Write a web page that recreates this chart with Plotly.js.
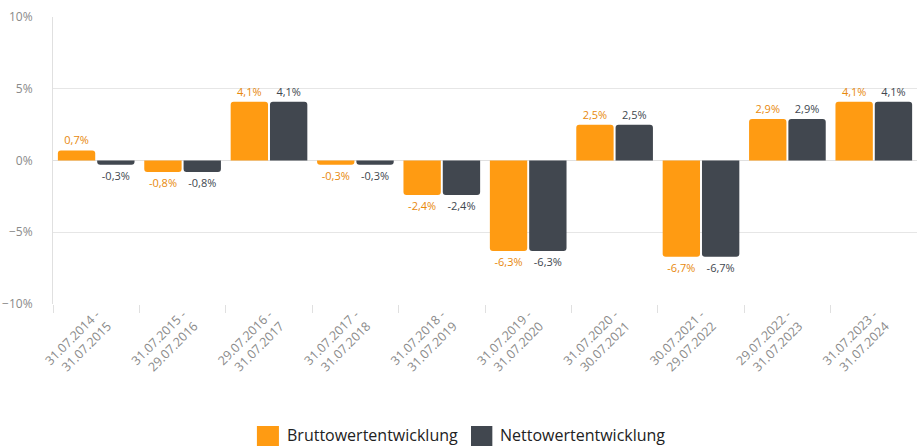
<!DOCTYPE html>
<html>
<head>
<meta charset="utf-8">
<script src="https://cdn.plot.ly/plotly-3.0.1.min.js"></script>
<style>html,body{margin:0;padding:0;background:#fff;overflow:hidden;}#chart{width:917px;height:446px;}</style>
</head>
<body>
<div id="chart"></div>
<script>
const categories = [
  "31.07.2014 -<br>31.07.2015",
  "31.07.2015 -<br>29.07.2016",
  "29.07.2016 -<br>31.07.2017",
  "31.07.2017 -<br>31.07.2018",
  "31.07.2018 -<br>31.07.2019",
  "31.07.2019 -<br>31.07.2020",
  "31.07.2020 -<br>30.07.2021",
  "30.07.2021 -<br>29.07.2022",
  "29.07.2022 -<br>31.07.2023",
  "31.07.2023 -<br>31.07.2024"
];
const brutto = [0.7, -0.8, 4.1, -0.3, -2.4, -6.3, 2.5, -6.7, 2.9, 4.1];
const netto = [-0.3, -0.8, 4.1, -0.3, -2.4, -6.3, 2.5, -6.7, 2.9, 4.1];
const seriesNames = ["Bruttowertentwicklung", "Nettowertentwicklung"];
const seriesColors = ['#FF9B12', '#41474F'];
const labelColors = ['#E8890C', '#41474F'];

const traces = [brutto, netto].map((vals, i) => ({
  type: 'bar', name: seriesNames[i], x: categories, y: vals,
  marker: {color: seriesColors[i]},
  texttemplate: '%{y:.1f}%', textposition: 'outside',
  textfont: {family: 'Open Sans', size: 11, color: labelColors[i]},
  cliponaxis: false, hoverinfo: 'none', showlegend: false
}));

// custom legend (larger swatches like the reference)
const legendItems = [
  {sx0: 0.236, sx1: 0.2615, tx: 0.2685},
  {sx0: 0.4838, sx1: 0.5085, tx: 0.5155}
];
const shapes = legendItems.map((it, i) => ({
  type: 'rect', xref: 'paper', yref: 'paper',
  x0: it.sx0, x1: it.sx1, y0: -0.425, y1: -0.50,
  fillcolor: seriesColors[i], line: {width: 0}
}));
const annotations = legendItems.map((it, i) => ({
  xref: 'paper', yref: 'paper', x: it.tx, y: -0.458,
  xanchor: 'left', yanchor: 'middle', showarrow: false,
  text: seriesNames[i],
  font: {family: 'Open Sans', size: 16, color: '#222'}
}));

const layout = {
  width: 917, height: 446,
  margin: {l: 53, r: 0, t: 17, b: 142, autoexpand: false},
  separators: ',.',
  paper_bgcolor: '#fff', plot_bgcolor: '#fff',
  barmode: 'group', bargap: 0.09, bargroupgap: 0.05,
  barcornerradius: 3,
  font: {family: 'Open Sans', color: '#444'},
  showlegend: false,
  shapes: shapes,
  annotations: annotations,
  xaxis: {
    type: 'category', tickangle: -45,
    tickson: 'boundaries', ticks: 'outside', ticklen: 8, tickcolor: '#e0e0e0',
    showgrid: false, showline: false, zeroline: false,
    tickfont: {family: 'Open Sans', size: 12.5, color: '#8a8a8a'},
    automargin: false
  },
  yaxis: {
    range: [-10, 10], dtick: 5, ticksuffix: '%',
    showgrid: true, gridcolor: '#e6e6e6', gridwidth: 1,
    zeroline: true, zerolinecolor: '#e0e0e0', zerolinewidth: 1,
    showline: true, linecolor: '#e0e0e0', linewidth: 1,
    ticks: '', ticklabelstandoff: 17,
    tickfont: {family: 'Open Sans', size: 12, color: '#8a8a8a'},
    automargin: false
  }
};

Plotly.newPlot('chart', traces, layout, {staticPlot: true, displayModeBar: false});
</script>
</body>
</html>
